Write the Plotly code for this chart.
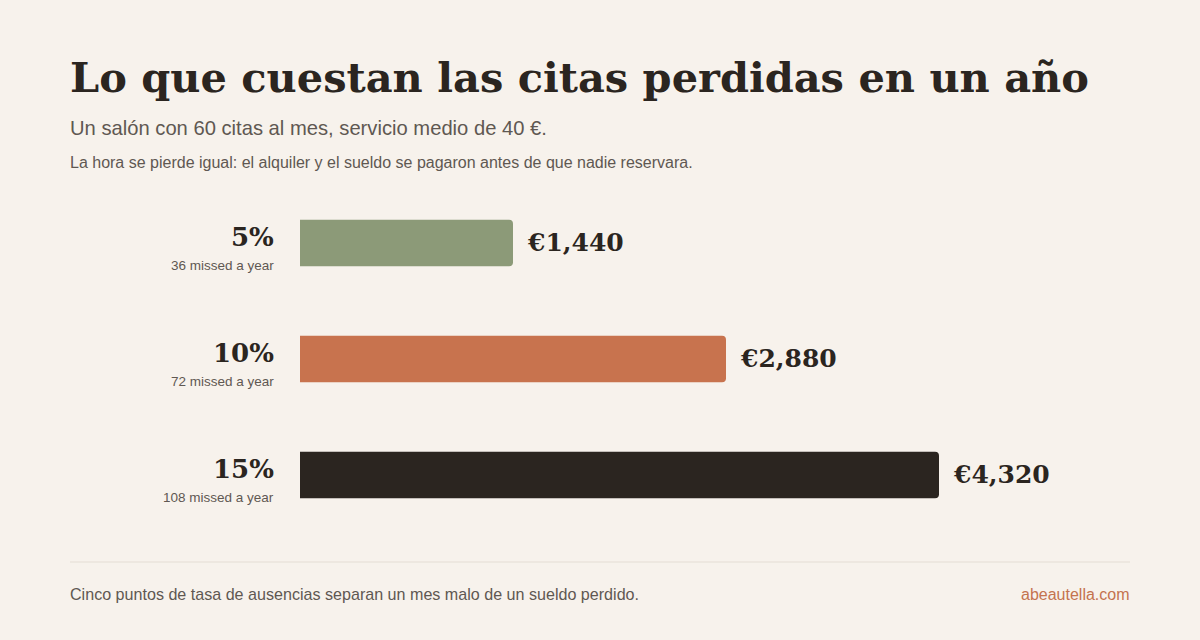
import plotly.graph_objects as go

# data
rates = ["5%", "10%", "15%"]
missed = [36, 72, 108]
costs = [1440, 2880, 4320]
bar_colors = ["#8c9a78", "#c8734e", "#2b2520"]

BG = "#f7f2ec"
INK = "#2b2520"
GREY = "#5f5852"
SERIF = "Georgia, 'DejaVu Serif', serif"
SANS = "Helvetica, Arial, 'Liberation Sans', sans-serif"

fig = go.Figure()
fig.add_trace(go.Bar(
    x=costs, y=rates, orientation="h",
    marker=dict(color=bar_colors, cornerradius=4, line=dict(width=0)),
    width=0.4, hoverinfo="skip", showlegend=False,
))

# left labels + value labels
for r, m, c in zip(rates, missed, costs):
    fig.add_annotation(x=0, xref="x domain", y=r, yref="y", text=f"<b>{r}</b>",
                       xanchor="right", yanchor="middle", xshift=-24, yshift=6,
                       showarrow=False, font=dict(family=SERIF, size=26, color=INK))
    fig.add_annotation(x=0, xref="x domain", y=r, yref="y", text=f"{m} missed a year",
                       xanchor="right", yanchor="middle", xshift=-24, yshift=-22,
                       showarrow=False, font=dict(family=SANS, size=13.5, color=GREY))
    fig.add_annotation(x=c, y=r, text=f"<b>€{c:,}</b>", xanchor="left", yanchor="middle",
                       xshift=12, yshift=1, showarrow=False,
                       font=dict(family=SERIF, size=25, color=INK))


def txt(x, y, s, size, color, family=SANS, anchor="left"):
    # paper coords == page pixels because margins are zero
    fig.add_annotation(x=x / 1200, y=1 - y / 640, xref="paper", yref="paper", text=s,
                       xanchor=anchor, yanchor="middle", showarrow=False, xshift=-2 if anchor == "left" else 2,
                       font=dict(family=family, size=size, color=color))


txt(70, 77, "<b>Lo que cuestan las citas perdidas en un año</b>", 41.5, INK, SERIF)
txt(70, 128, "Un salón con 60 citas al mes, servicio medio de 40 €.", 20.2, GREY)
txt(70, 162, "La hora se pierde igual: el alquiler y el sueldo se pagaron antes de que nadie reservara.", 16, GREY)
txt(70, 594, "Cinco puntos de tasa de ausencias separan un mes malo de un sueldo perdido.", 16.1, GREY)
txt(1130, 594, "abeautella.com", 16, "#c4734f", anchor="right")

fig.add_shape(type="line", xref="paper", yref="paper", x0=70 / 1200, x1=1130 / 1200,
              y0=1 - 562 / 640, y1=1 - 562 / 640, line=dict(color="#e4ddd4", width=1))

# plot area placed with axis domains over a full-page paper
x0, x1 = 300, 1130
y_top, y_bot = 185, 533
fig.update_layout(
    width=1200, height=640,
    margin=dict(l=0, r=0, t=0, b=0),
    paper_bgcolor=BG, plot_bgcolor=BG,
    xaxis=dict(domain=[x0 / 1200, x1 / 1200], range=[0, max(costs) * (x1 - x0) / 639],
               visible=False, fixedrange=True),
    yaxis=dict(domain=[1 - y_bot / 640, 1 - y_top / 640], autorange="reversed",
               visible=False, fixedrange=True),
)

fig.write_html("out.html", config={"displayModeBar": False},
               post_script="document.body.style.margin='0';")
